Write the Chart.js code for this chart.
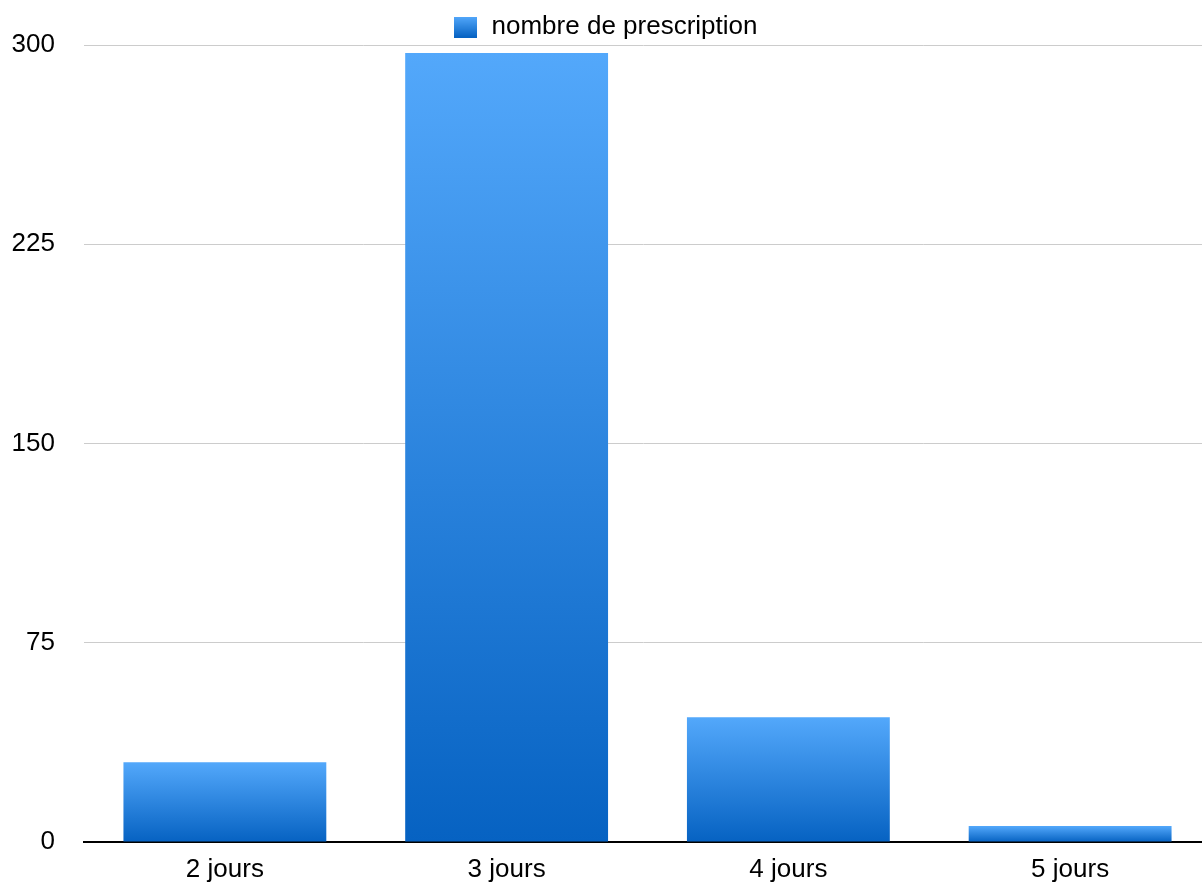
<!DOCTYPE html>
<html>
<head>
<meta charset="utf-8">
<script src="https://cdn.jsdelivr.net/npm/chart.js@4/dist/chart.umd.min.js"></script>
<style>
  html, body { margin: 0; padding: 0; background: #fff; }
  #wrap { width: 1202px; height: 884px; }
</style>
</head>
<body>
<div id="wrap"><canvas id="barChart"></canvas></div>
<script>
const categories = ['2 jours', '3 jours', '4 jours', '5 jours'];
const prescriptions = [30, 297, 47, 6];
const yTicks = [0, 75, 150, 225, 300];
const seriesName = 'nombre de prescription';

const topBlue = '#53a8fb';
const bottomBlue = '#0662c2';

function barGradient(context) {
    const chart = context.chart;
    if (!chart.chartArea || context.dataIndex === undefined) return topBlue;
    const y = chart.scales.y;
    const top = y.getPixelForValue(prescriptions[context.dataIndex]);
    const bottom = y.getPixelForValue(0);
    const g = chart.ctx.createLinearGradient(0, top, 0, bottom);
    g.addColorStop(0, topBlue);
    g.addColorStop(1, bottomBlue);
    return g;
}

// small swatch for the legend
const swatch = document.createElement('canvas');
swatch.width = 23;
swatch.height = 21;
const sctx = swatch.getContext('2d');
const sg = sctx.createLinearGradient(0, 0, 0, 21);
sg.addColorStop(0, topBlue);
sg.addColorStop(1, bottomBlue);
sctx.fillStyle = sg;
sctx.fillRect(0, 0, 23, 21);

const font = { family: '"Liberation Sans", Arial, sans-serif', size: 26 };

// the original plot runs a little past the right edge; legend sits a bit lower
const layoutTweak = {
    id: 'layoutTweak',
    afterLayout(chart) {
        const lg = chart.legend;
        if (lg) {
            lg.top += 5;
            lg.bottom += 5;
            lg.left += 4;
            lg.right += 4;
        }
        const x = chart.scales.x;
        x.right += 9;
        x.width += 9;
        x.configure();
        chart.chartArea.right += 9;
        chart.chartArea.width += 9;
    }
};

new Chart(document.getElementById('barChart').getContext('2d'), {
    type: 'bar',
    data: {
        labels: categories,
        datasets: [{
            label: seriesName,
            data: prescriptions,
            backgroundColor: barGradient,
            borderWidth: 0,
            categoryPercentage: 1,
            barPercentage: 0.72
        }]
    },
    options: {
        responsive: true,
        maintainAspectRatio: false,
        animation: false,
        layout: { padding: { left: 0, right: 0, top: 1, bottom: 0 } },
        plugins: {
            tooltip: { enabled: false },
            legend: {
                position: 'top',
                labels: {
                    color: '#000',
                    font: font,
                    usePointStyle: true,
                    padding: 8,
                    generateLabels: () => [{
                        text: seriesName,
                        pointStyle: swatch,
                        fontColor: '#000',
                        lineWidth: 0,
                        datasetIndex: 0
                    }]
                }
            }
        },
        scales: {
            x: {
                afterFit: axis => {
                    axis.height = 42;
                    axis.paddingLeft = 0;
                    axis.paddingRight = 0;
                },
                grid: { display: false, drawTicks: false },
                border: { display: true, color: '#000', width: 2 },
                ticks: { color: '#000', font: font, padding: 12 }
            },
            y: {
                min: 0,
                max: 300,
                afterFit: axis => {
                    axis.width = 84;
                    axis.paddingTop = 0;
                    axis.paddingBottom = 0;
                },
                afterBuildTicks: axis => { axis.ticks = yTicks.map(v => ({ value: v })); },
                grid: {
                    drawTicks: false,
                    color: c => c.tick && c.tick.value === 0 ? 'rgba(0,0,0,0)' : '#cccccc',
                    lineWidth: 1
                },
                border: { display: false },
                ticks: { color: '#000', font: font, padding: 29 }
            }
        }
    },
    plugins: [layoutTweak]
});
</script>
</body>
</html>
